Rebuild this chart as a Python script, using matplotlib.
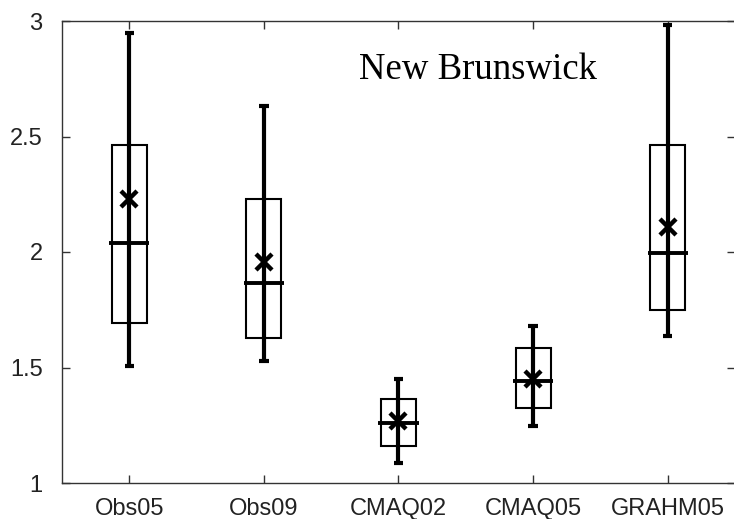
import matplotlib
matplotlib.use("Agg")
import matplotlib.pyplot as plt
from matplotlib.patches import Rectangle

# Summary statistics per dataset
categories = ["Obs05", "Obs09", "CMAQ02", "CMAQ05", "GRAHM05"]
whisker_low = [1.506, 1.528, 1.085, 1.248, 1.638]
q1 = [1.691, 1.629, 1.160, 1.323, 1.749]
median = [2.038, 1.864, 1.258, 1.442, 1.994]
q3 = [2.463, 2.229, 1.362, 1.583, 2.463]
whisker_high = [2.947, 2.630, 1.449, 1.681, 2.983]
mean = [2.228, 1.958, 1.270, 1.450, 2.110]
y_ticks = [1, 1.5, 2, 2.5, 3]
y_tick_labels = ["1", "1.5", "2", "2.5", "3"]

fig = plt.figure(figsize=(7.34, 5.19), dpi=100)
ax = fig.add_axes([62 / 734, 1 - 483 / 519, 673 / 734, 462 / 519])

pos = list(range(1, len(categories) + 1))
box_w = 0.26
med_w = 0.30
cap_w = 0.07

for x, lo, a, m, b, hi, mu in zip(pos, whisker_low, q1, median, q3, whisker_high, mean):
    ax.vlines(x, lo, hi, colors="black", linewidth=3.0, zorder=3)
    ax.hlines([lo, hi], x - cap_w / 2, x + cap_w / 2, colors="black", linewidth=3.0, zorder=3)
    ax.add_patch(Rectangle((x - box_w / 2, a), box_w, b - a, fill=False,
                           edgecolor="black", linewidth=1.5, zorder=2))
    ax.hlines(m, x - med_w / 2, x + med_w / 2, colors="black", linewidth=2.8, zorder=3)
    ax.plot([x], [mu], marker="x", markersize=12, markeredgewidth=3.2,
            color="black", linestyle="none", zorder=4)

ax.set_xlim(0.5, len(categories) + 0.5)
ax.set_ylim(1, 3)
ax.set_xticks(pos)
ax.set_xticklabels(categories)
ax.set_yticks(y_ticks)
ax.set_yticklabels(y_tick_labels)

ax.tick_params(axis="both", direction="in", length=6, width=1.0, color="#333333",
               labelsize=17, labelcolor="#222222", top=True, right=True)
ax.tick_params(axis="x", pad=11)
ax.tick_params(axis="y", pad=14)
for lab in ax.get_xticklabels() + ax.get_yticklabels():
    lab.set_fontfamily(["Liberation Sans", "DejaVu Sans"])
for sp in ax.spines.values():
    sp.set_color("#333333")
    sp.set_linewidth(1.0)
ax.spines["right"].set_visible(False)

ax.text(0.618, 0.874, "New Brunswick", transform=ax.transAxes, ha="center",
        va="baseline", fontsize=26.5, family=["Liberation Serif", "DejaVu Serif"])

fig.savefig("out.png", dpi=100)
